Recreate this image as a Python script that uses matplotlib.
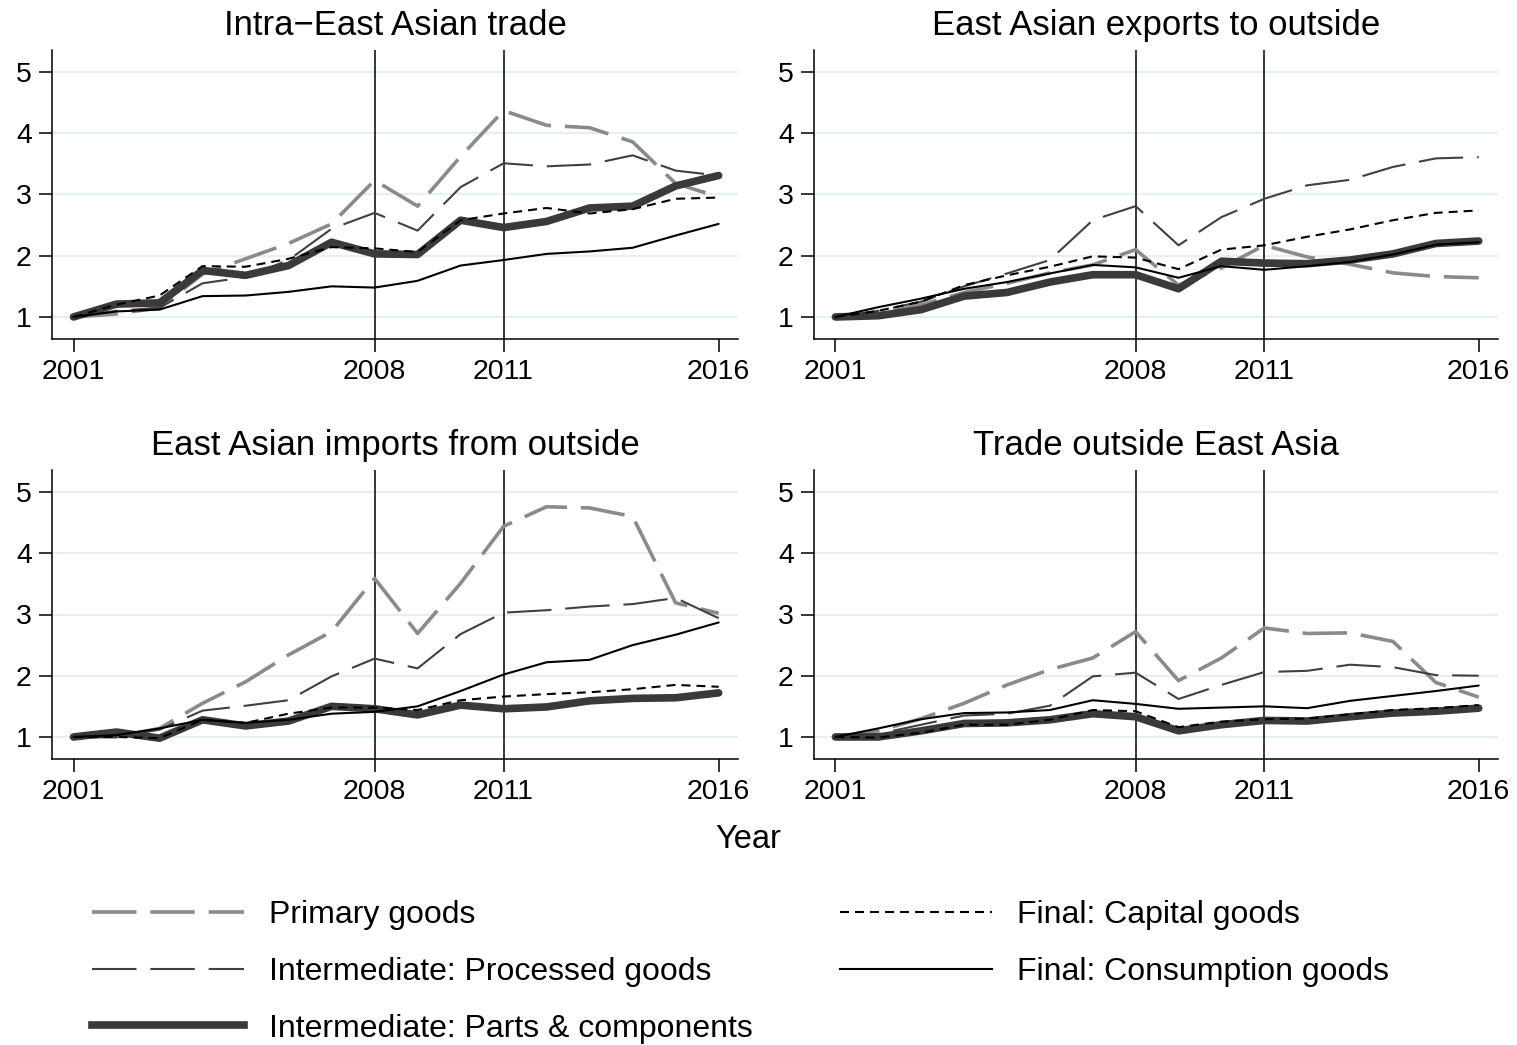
import matplotlib
matplotlib.use("Agg")
import matplotlib.pyplot as plt
from matplotlib.lines import Line2D

plt.rcParams['font.family'] = ['Liberation Sans', 'DejaVu Sans']
plt.rcParams['lines.scale_dashes'] = False
plt.rcParams['axes.unicode_minus'] = True

years = list(range(2001, 2017))
xticks = [2001, 2008, 2011, 2016]
yticks = [1, 2, 3, 4, 5]
vlines = [2008, 2011]

titles = ["Intra\u2212East Asian trade", "East Asian exports to outside",
          "East Asian imports from outside", "Trade outside East Asia"]
series_names = ["Primary goods", "Intermediate: Processed goods",
                "Intermediate: Parts & components", "Final: Capital goods",
                "Final: Consumption goods"]

# Panel 1: Intra-East Asian trade
p1_primary = [1.0, 1.05, 1.15, 1.70, 1.95, 2.20, 2.52, 3.23, 2.81, 3.62, 4.37, 4.13, 4.09, 3.86, 3.18, 2.96]
p1_processed = [1.0, 1.10, 1.15, 1.55, 1.65, 1.93, 2.44, 2.70, 2.41, 3.12, 3.51, 3.46, 3.49, 3.64, 3.39, 3.31]
p1_parts = [1.0, 1.21, 1.23, 1.76, 1.68, 1.84, 2.22, 2.03, 2.02, 2.58, 2.46, 2.56, 2.78, 2.81, 3.14, 3.31]
p1_capital = [1.0, 1.20, 1.35, 1.83, 1.82, 1.95, 2.14, 2.12, 2.06, 2.58, 2.69, 2.78, 2.69, 2.76, 2.93, 2.95]
p1_consumption = [1.0, 1.09, 1.12, 1.34, 1.35, 1.41, 1.50, 1.48, 1.59, 1.84, 1.93, 2.03, 2.07, 2.13, 2.33, 2.52]

# Panel 2: East Asian exports to outside
p2_primary = [1.0, 1.05, 1.20, 1.40, 1.55, 1.72, 1.85, 2.10, 1.52, 1.80, 2.17, 1.98, 1.86, 1.72, 1.66, 1.64]
p2_processed = [1.0, 1.10, 1.25, 1.50, 1.71, 1.93, 2.58, 2.81, 2.17, 2.63, 2.93, 3.15, 3.24, 3.45, 3.59, 3.61]
p2_parts = [1.0, 1.02, 1.12, 1.34, 1.40, 1.57, 1.69, 1.69, 1.46, 1.91, 1.88, 1.87, 1.93, 2.03, 2.20, 2.24]
p2_capital = [1.0, 1.10, 1.25, 1.52, 1.68, 1.82, 1.99, 1.97, 1.78, 2.10, 2.17, 2.31, 2.43, 2.58, 2.70, 2.74]
p2_consumption = [1.0, 1.16, 1.30, 1.46, 1.57, 1.71, 1.85, 1.81, 1.64, 1.83, 1.77, 1.83, 1.90, 2.02, 2.18, 2.22]

# Panel 3: East Asian imports from outside
p3_primary = [1.0, 1.00, 1.14, 1.55, 1.90, 2.34, 2.72, 3.59, 2.69, 3.51, 4.44, 4.76, 4.74, 4.60, 3.19, 3.02]
p3_processed = [1.0, 1.00, 1.12, 1.43, 1.51, 1.60, 1.99, 2.28, 2.12, 2.68, 3.03, 3.07, 3.13, 3.17, 3.27, 2.94]
p3_parts = [1.0, 1.08, 0.98, 1.28, 1.18, 1.26, 1.50, 1.46, 1.36, 1.52, 1.46, 1.49, 1.59, 1.63, 1.64, 1.72]
p3_capital = [1.0, 1.00, 0.98, 1.28, 1.23, 1.38, 1.48, 1.48, 1.44, 1.60, 1.66, 1.70, 1.73, 1.78, 1.85, 1.82]
p3_consumption = [1.0, 1.03, 1.14, 1.28, 1.23, 1.28, 1.38, 1.41, 1.50, 1.75, 2.02, 2.22, 2.26, 2.50, 2.67, 2.87]

# Panel 4: Trade outside East Asia
p4_primary = [1.0, 1.10, 1.30, 1.55, 1.85, 2.10, 2.29, 2.72, 1.92, 2.29, 2.78, 2.69, 2.70, 2.56, 1.89, 1.65]
p4_processed = [1.0, 1.05, 1.20, 1.35, 1.38, 1.51, 1.99, 2.05, 1.62, 1.85, 2.06, 2.08, 2.18, 2.14, 2.01, 2.00]
p4_parts = [1.0, 1.00, 1.10, 1.22, 1.23, 1.28, 1.38, 1.33, 1.10, 1.20, 1.27, 1.26, 1.33, 1.39, 1.42, 1.47]
p4_capital = [1.0, 0.99, 1.07, 1.20, 1.20, 1.28, 1.44, 1.42, 1.16, 1.25, 1.29, 1.30, 1.37, 1.44, 1.47, 1.52]
p4_consumption = [1.0, 1.14, 1.29, 1.39, 1.40, 1.44, 1.60, 1.54, 1.46, 1.48, 1.50, 1.47, 1.59, 1.67, 1.75, 1.84]

panels = [
    [p1_primary, p1_processed, p1_parts, p1_capital, p1_consumption],
    [p2_primary, p2_processed, p2_parts, p2_capital, p2_consumption],
    [p3_primary, p3_processed, p3_parts, p3_capital, p3_consumption],
    [p4_primary, p4_processed, p4_parts, p4_capital, p4_consumption],
]

styles = [
    dict(color='#8a8a8a', lw=2.6, ls=(0, (32, 10))),
    dict(color='#404040', lw=1.5, ls=(0, (32, 10))),
    dict(color='#3a3a3a', lw=5.5, ls='-'),
    dict(color='#000000', lw=1.5, ls=(0, (6.5, 4.3))),
    dict(color='#000000', lw=1.5, ls='-'),
]

W, H = 1517, 1045
fig = plt.figure(figsize=(W / 100, H / 100), dpi=100)

positions = [
    (52, 50, 738, 339),
    (814, 50, 1498, 339),
    (52, 470, 738, 759),
    (814, 470, 1498, 759),
]

FS = 20.5
for i, (l, t, r, b) in enumerate(positions):
    ax = fig.add_axes([l / W, 1 - b / H, (r - l) / W, (b - t) / H])
    for y in yticks:
        ax.axhline(y, color='#e6eff1', lw=1.6, zorder=0)
    for xv in vlines:
        ax.axvline(xv, color='black', lw=1.1, zorder=1)
    for vals, st in zip(panels[i], styles):
        ax.plot(years, vals, color=st['color'], lw=st['lw'], ls=st['ls'],
                solid_capstyle='round', dash_capstyle='butt', solid_joinstyle='round', zorder=2)
    ax.set_xlim(2000.5, 2016.45)
    ax.set_ylim(0.64, 5.36)
    ax.set_xticks(xticks)
    ax.set_yticks(yticks)
    ax.tick_params(axis='both', direction='out', length=9.5, width=1.1, labelsize=FS, pad=5, color='black')
    for s in ['top', 'right']:
        ax.spines[s].set_visible(False)
    for s in ['left', 'bottom']:
        ax.spines[s].set_linewidth(1.1)
    ax.set_title(titles[i], fontsize=25, pad=10.5)

fig.text(748 / W, 1 - 840 / H, "Year", ha='center', va='center', fontsize=23.5)

handles = [Line2D([], [], color=st['color'], lw=st['lw'], ls=st['ls']) for st in styles]
fig.legend(handles, series_names, loc='upper left', bbox_to_anchor=(92 / W, 1 - 900 / H),
           ncol=2, frameon=False, fontsize=23, handlelength=4.75, handletextpad=0.78,
           columnspacing=2.75, labelspacing=0.84, borderaxespad=0, borderpad=0)

fig.savefig("out.png", dpi=100)
